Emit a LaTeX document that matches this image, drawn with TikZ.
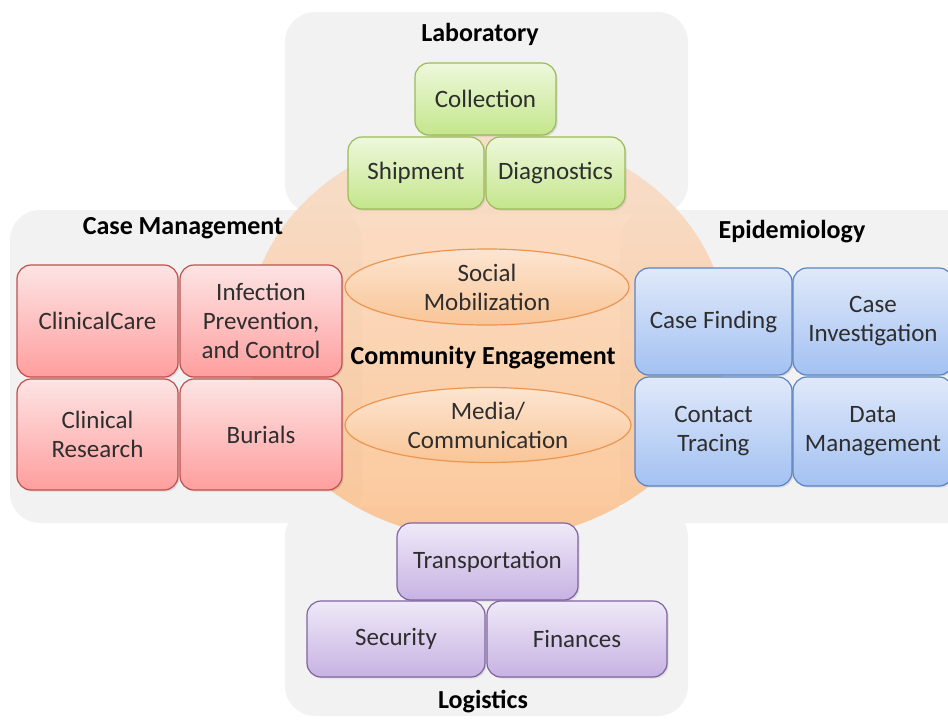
\documentclass[tikz,border=0pt]{standalone}
\usepackage{fontspec}
\setmainfont{Carlito}
\usetikzlibrary{shapes.geometric,shadows}

\definecolor{labtop}{HTML}{EEF8DC}
\definecolor{labbot}{HTML}{C4E68C}
\definecolor{labedge}{HTML}{9BBB59}
\definecolor{cmtop}{HTML}{FDE4E4}
\definecolor{cmbot}{HTML}{FF9E9E}
\definecolor{cmedge}{HTML}{C0504D}
\definecolor{epitop}{HTML}{E0E9FA}
\definecolor{epibot}{HTML}{A3C1F2}
\definecolor{epiedge}{HTML}{5B84C4}
\definecolor{logtop}{HTML}{EFE9F8}
\definecolor{logbot}{HTML}{C7B2E2}
\definecolor{logedge}{HTML}{8064A2}
\definecolor{ovaltop}{HTML}{FDE5D1}
\definecolor{ovalbot}{HTML}{F9C596}
\definecolor{ovaledge}{HTML}{EB9650}
\definecolor{hubtop}{HTML}{F9DCC6}
\definecolor{hubbot}{HTML}{FBBE88}

\begin{document}
\begin{tikzpicture}[x=0.5pt,y=-0.5pt,
  every node/.style={font=\fontsize{12.5}{14.5}\selectfont, text=black!82},
  panel/.style={fill=black!5, rounded corners=15pt},
  title/.style={font=\bfseries\fontsize{13}{15}\selectfont, text=black},
  taskbox/.style={draw, rounded corners=7pt, align=center, inner sep=2pt, line width=0.6pt,
    drop shadow={opacity=0.2, shadow xshift=0.8pt, shadow yshift=-0.8pt}},
  labbox/.style={taskbox, draw=labedge, top color=labtop, bottom color=labbot},
  cmbox/.style={taskbox, draw=cmedge, top color=cmtop, bottom color=cmbot},
  epibox/.style={taskbox, draw=epiedge, top color=epitop, bottom color=epibot},
  logbox/.style={taskbox, draw=logedge, top color=logtop, bottom color=logbot},
  oval/.style={ellipse, draw=ovaledge, line width=0.6pt, top color=ovaltop, bottom color=ovalbot,
    align=center, inner sep=0pt}]
  \useasboundingbox (0,0) rectangle (948,719);
  \clip (0,0) rectangle (948,719);

  % background panels
  \fill[panel] (285,12) rectangle (688,214);
  \fill[panel] (10,210) rectangle (362,523);
  \fill[panel] (620,210) rectangle (990,523);
  \fill[panel] (285,507) rectangle (688,716);

  % community engagement hub
  \shade[top color=hubtop, bottom color=hubbot, fill opacity=0.85] (487,335) ellipse [x radius=120pt, y radius=102.5pt];
  \node[oval, minimum width=142pt, minimum height=38pt] (social) at (487,287) {Social\\Mobilization};
  \node[oval, minimum width=143pt, minimum height=37.5pt] (media) at (488,425) {Media/\\Communication};
  \node[title] (ce) at (483,358) {Community Engagement};

  % laboratory
  \node[title] (lab) at (480,34) {Laboratory};
  \node[labbox, minimum width=70.5pt, minimum height=36pt] (collection) at (485.5,99) {Collection};
  \node[labbox, minimum width=68pt, minimum height=36pt] (shipment) at (416,173) {Shipment};
  \node[labbox, minimum width=69.5pt, minimum height=36pt] (diagnostics) at (555.5,173) {Diagnostics};

  % case management
  \node[title] (cm) at (183,228) {Case Management};
  \node[cmbox, minimum width=80.5pt, minimum height=56pt] (care) at (97.5,321) {ClinicalCare};
  \node[cmbox, minimum width=81pt, minimum height=56pt] (ipc) at (261,321) {Infection\\Prevention,\\and Control};
  \node[cmbox, minimum width=80.5pt, minimum height=55.5pt] (research) at (97.5,434.5) {Clinical\\Research};
  \node[cmbox, minimum width=81pt, minimum height=55.5pt] (burials) at (261,434.5) {Burials};

  % epidemiology
  \node[title] (epi) at (792,232) {Epidemiology};
  \node[epibox, minimum width=78.5pt, minimum height=53.5pt] (finding) at (713.5,321.5) {Case Finding};
  \node[epibox, minimum width=80pt, minimum height=53.5pt] (investigation) at (873,321.5) {Case\\Investigation};
  \node[epibox, minimum width=78.5pt, minimum height=54.5pt] (tracing) at (713.5,431.5) {Contact\\Tracing};
  \node[epibox, minimum width=80pt, minimum height=54.5pt] (datamgmt) at (873,431.5) {Data\\Management};

  % logistics
  \node[logbox, minimum width=90.5pt, minimum height=38.5pt] (transport) at (487.5,561.5) {Transportation};
  \node[logbox, minimum width=89pt, minimum height=38pt] (security) at (396,639) {Security};
  \node[logbox, minimum width=90pt, minimum height=38pt] (finances) at (577,639) {Finances};
  \node[title] (log) at (483,702) {Logistics};
\end{tikzpicture}
\end{document}
